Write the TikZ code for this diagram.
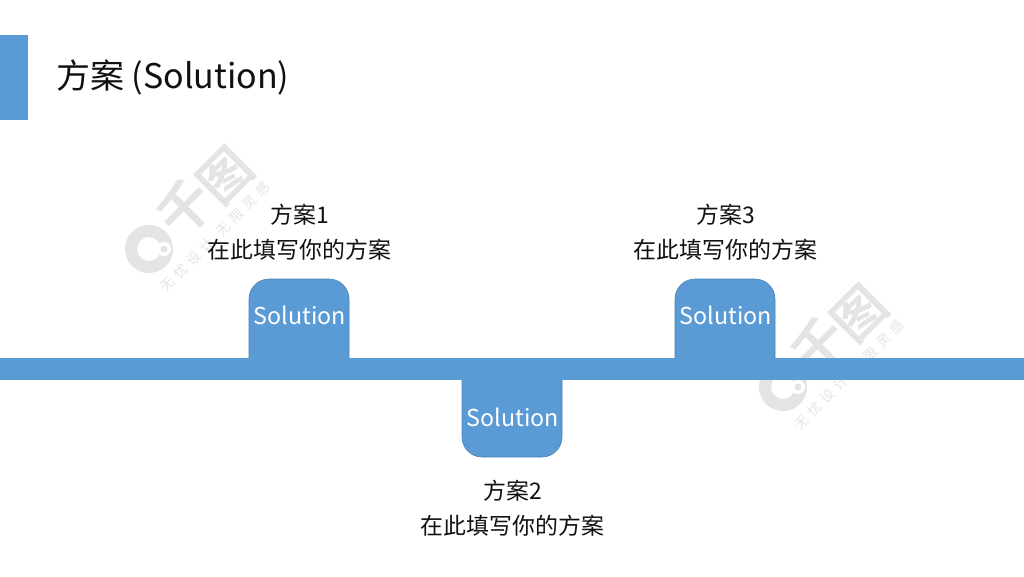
\documentclass[tikz,border=0pt]{standalone}
\usepackage{fontspec}
\setmainfont{Noto Sans CJK SC}
\newfontfamily\heavycjk{Noto Sans CJK SC Bold}
\definecolor{barblue}{HTML}{5B9BD5}
\definecolor{baredge}{HTML}{4A82B5}
\definecolor{inkblack}{HTML}{111111}
\definecolor{markgrey}{HTML}{E4E4E4}
\tikzset{
  x=1pt,y=-1pt,
  band/.style={fill=barblue,draw=none},
  tab/.style={fill=barblue,draw=baredge,line width=0.6pt,rounded corners=20pt},
  tabtext/.style={text=white,font=\fontsize{23.3}{28}\selectfont,inner sep=0pt},
  caption/.style={text=inkblack,font=\fontsize{22.9}{35.5}\selectfont,align=center,inner sep=0pt},
  marktext/.style={text=markgrey,inner sep=0pt,rotate=45},
  % faint stamp: ring, two rotated glyphs and a slanted slogan
  stamp/.pic={
    \fill[markgrey,even odd rule] (0,0) circle[radius=24] (0,0) circle[radius=12];
    \fill[white] (15,0) circle[radius=7];
    \fill[markgrey] (15,0) circle[radius=3.5];
    \node[marktext,font=\heavycjk\fontsize{54}{54}\selectfont] (qian) at (36,-41) {千};
    \node[marktext,font=\heavycjk\fontsize{52}{52}\selectfont] (tu) at (77,-73) {图};
    \node[marktext,font=\fontsize{13.5}{14}\selectfont] (slogan) at (66,-12) {无\hspace{5pt}忧\hspace{5pt}设\hspace{5pt}计\hspace{10pt}无\hspace{5pt}限\hspace{5pt}灵\hspace{5pt}感};
  }
}
\begin{document}
\begin{tikzpicture}
\useasboundingbox (0,0) rectangle (1024,576);
\fill[white] (0,0) rectangle (1024,576);

% watermark stamps
\pic at (149,249) {stamp};
\pic at (783,387) {stamp};

% title block
\fill[band] (0,35) rectangle (27.5,119.5);
\node[anchor=west,inner sep=0pt,text=inkblack,font=\fontsize{34}{38}\selectfont] (title) at (56,77) {方案 (Solution)};

% raised and lowered tabs
\draw[tab] (249,358) -- (249,279) -- (349,279) -- (349,358);
\draw[tab] (675,358) -- (675,279) -- (775,279) -- (775,358);
\draw[tab] (462,380) -- (462,457) -- (562,457) -- (562,380);

% horizontal band across the page
\fill[band] (0,358) rectangle (1024,380);

% tab labels
\node[tabtext] (s1) at (300,315) {Solution};
\node[tabtext] (s2) at (513,417) {Solution};
\node[tabtext] (s3) at (726,315) {Solution};

% captions
\node[caption] (c1) at (299.5,232) {方案1\\在此填写你的方案};
\node[caption] (c2) at (512.5,508) {方案2\\在此填写你的方案};
\node[caption] (c3) at (725.5,232) {方案3\\在此填写你的方案};
\end{tikzpicture}
\end{document}
